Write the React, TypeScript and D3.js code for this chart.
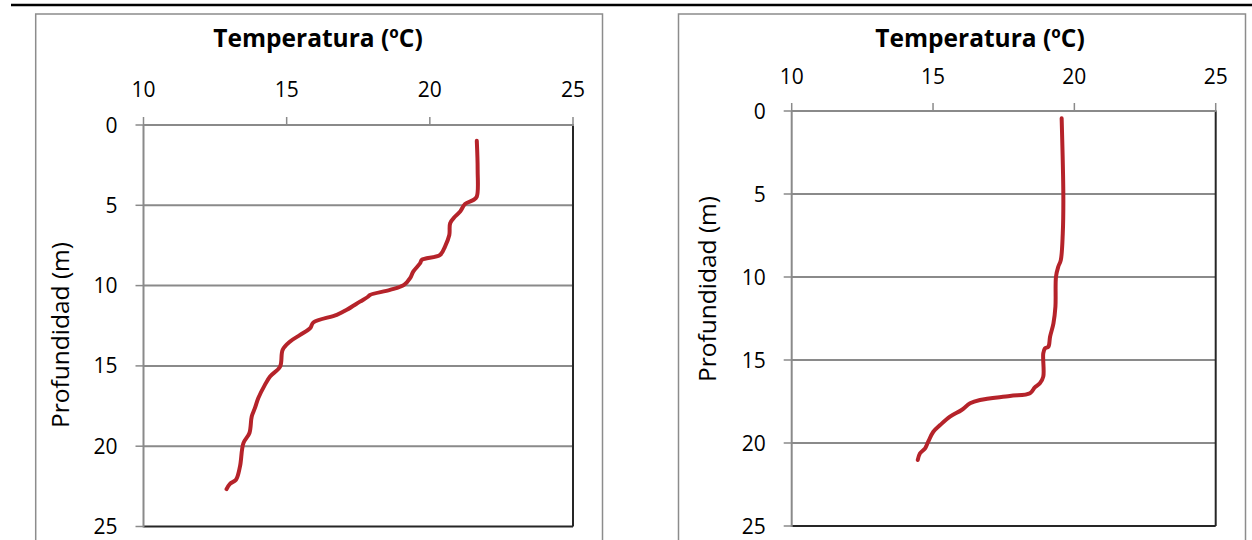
import React from "react";
import * as d3 from "d3";

const tempTicks = [10, 15, 20, 25];
const depthTicks = [0, 5, 10, 15, 20, 25];

const leftTemp = [21.64, 21.67, 21.64, 21.52, 21.23, 21.06, 20.88, 20.71, 20.68, 20.53, 20.36, 19.72, 19.66, 19.42, 19.31, 19.1, 18.61, 17.91, 17.85, 17.56, 17.1, 16.75, 15.93, 15.82, 15.47, 15.12, 14.86, 14.77, 14.42, 14.24, 14.01, 13.89, 13.78, 13.7, 13.49, 13.37, 13.23, 13.02, 12.9];
const leftDepth = [0.98, 2.8, 4.46, 4.67, 4.92, 5.39, 5.7, 6.12, 6.85, 7.57, 8.09, 8.4, 8.61, 9.13, 9.54, 9.96, 10.27, 10.58, 10.68, 11.0, 11.51, 11.82, 12.3, 12.65, 13.07, 13.48, 14.0, 15.04, 15.66, 16.18, 17.0, 17.63, 18.15, 19.18, 19.81, 21.26, 22.09, 22.34, 22.67];

const rightTemp = [19.55, 19.61, 19.59, 19.52, 19.43, 19.35, 19.33, 19.26, 19.14, 19.08, 18.96, 18.9, 18.9, 18.78, 18.6, 18.43, 17.72, 16.66, 16.31, 16.01, 15.6, 15.25, 15.01, 14.83, 14.72, 14.54, 14.46];
const rightDepth = [0.44, 5.16, 7.37, 8.98, 9.38, 9.98, 11.79, 12.79, 13.6, 14.2, 14.3, 14.6, 16.0, 16.4, 16.65, 17.0, 17.17, 17.41, 17.61, 18.01, 18.41, 18.92, 19.32, 19.92, 20.32, 20.62, 21.02];

const xTitle = "Temperatura (ºC)";
const yTitle = "Profundidad (m)";

const FONT = "'Open Sans', Lato, sans-serif";
const GRID = "#8a8a8a";
const LINE = "#b5232a";

type ChartProps = {
  temps: number[];
  depths: number[];
  frame: [number, number, number, number];
  plot: [number, number, number, number];
  titleX: number;
  titleY: number;
  tickLabelY: number;
  yLabelX: number;
  yLabelY: number;
};

function Chart(p: ChartProps) {
  const [fx0, fy0, fx1, fy1] = p.frame;
  const [px0, py0, px1, py1] = p.plot;
  const x = d3.scaleLinear().domain([10, 25]).range([px0, px1]);
  const y = d3.scaleLinear().domain([0, 25]).range([py0, py1]);
  const pts = p.temps.map((t, i) => [t, p.depths[i]] as [number, number]);
  const line = d3
    .line<[number, number]>()
    .x((d) => x(d[0]))
    .y((d) => y(d[1]))
    .curve(d3.curveCatmullRom.alpha(0.5));
  return (
    <g>
      <rect x={fx0} y={fy0} width={fx1 - fx0} height={fy1 - fy0} fill="white" stroke="#8c8c8c" strokeWidth={1.5} />
      {depthTicks.slice(1, -1).map((d) => (
        <line key={"g" + d} x1={px0} x2={px1} y1={y(d)} y2={y(d)} stroke={GRID} strokeWidth={2} />
      ))}
      <line x1={px1} x2={px1} y1={py0} y2={py1} stroke="#262626" strokeWidth={2} />
      <line x1={px0} x2={px1} y1={py1} y2={py1} stroke="#262626" strokeWidth={2} />
      <line x1={px0} x2={px1 + 1} y1={py0} y2={py0} stroke={GRID} strokeWidth={2} />
      <line x1={px0} x2={px0} y1={py0} y2={py1 + 1} stroke={GRID} strokeWidth={2} />
      {tempTicks.map((t) => (
        <g key={"xt" + t}>
          <line x1={x(t)} x2={x(t)} y1={py0} y2={py0 - 8} stroke={GRID} strokeWidth={1.5} />
          <text x={x(t)} y={p.tickLabelY} textAnchor="middle" fontFamily={FONT} fontSize={21} fill="#000">
            {t}
          </text>
        </g>
      ))}
      {depthTicks.map((d) => (
        <g key={"yt" + d}>
          <line x1={px0 - 8} x2={px0} y1={y(d)} y2={y(d)} stroke={GRID} strokeWidth={1.5} />
          <text x={px0 - 26} y={y(d)} dy="0.36em" textAnchor="end" fontFamily={FONT} fontSize={21} fill="#000">
            {d}
          </text>
        </g>
      ))}
      <text x={p.titleX} y={p.titleY} textAnchor="middle" fontFamily={FONT} fontWeight="bold" fontSize={24.5} fill="#000">
        {xTitle}
      </text>
      <text
        transform={`translate(${p.yLabelX},${p.yLabelY}) rotate(-90)`}
        textAnchor="middle"
        dy="0.36em"
        fontFamily={FONT}
        fontSize={24.5}
        fill="#000"
      >
        {yTitle}
      </text>
      <path d={line(pts) || ""} fill="none" stroke={LINE} strokeWidth={4} strokeLinecap="round" strokeLinejoin="round" />
    </g>
  );
}

export default function App() {
  return (
    <svg width={1252} height={540} style={{ position: "absolute", left: 0, top: 0, background: "white" }}>
      <rect x={0} y={0} width={1252} height={540} fill="white" />
      <Chart
        temps={leftTemp}
        depths={leftDepth}
        frame={[35.7, 14, 602.5, 560]}
        plot={[143.5, 125, 573, 526.5]}
        titleX={318}
        titleY={47}
        tickLabelY={97}
        yLabelX={60}
        yLabelY={335}
      />
      <Chart
        temps={rightTemp}
        depths={rightDepth}
        frame={[678.5, 14, 1245.5, 560]}
        plot={[791.7, 111, 1215.7, 526]}
        titleX={980}
        titleY={47}
        tickLabelY={84}
        yLabelX={707}
        yLabelY={289}
      />
      <line x1={11} x2={1252} y1={5} y2={5} stroke="#000" strokeWidth={2.5} />
    </svg>
  );
}
